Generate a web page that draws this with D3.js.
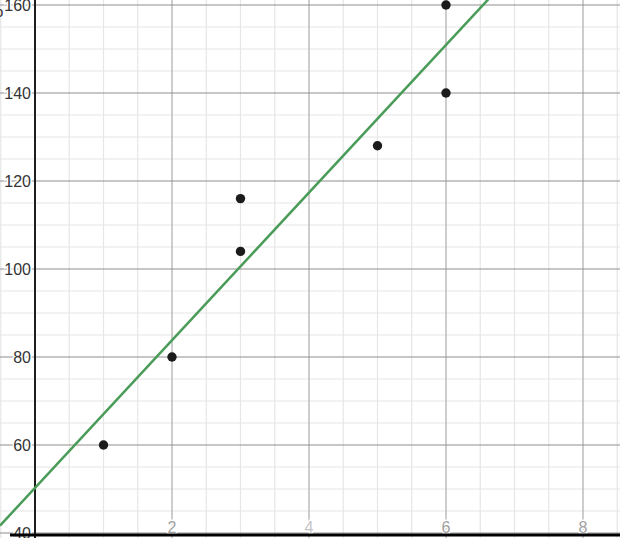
<!DOCTYPE html>
<html>
<head>
<meta charset="utf-8">
<script src="https://cdn.jsdelivr.net/npm/d3@7"></script>
<style>
html,body{margin:0;padding:0;background:#fff;overflow:hidden;}
svg{display:block;}
</style>
</head>
<body>
<svg id="chart" width="620" height="538"></svg>
<script>
// Data
const pointsX = [1, 2, 3, 3, 5, 6, 6];
const pointsY = [60, 80, 104, 116, 128, 140, 160];
const lineSlope = 16.78;
const lineIntercept = 50.25;
const xTickLabels = [2, 4, 6, 8];
const yTickLabels = [40, 60, 80, 100, 120, 140, 160];

const W = 620, H = 538;
const svg = d3.select("#chart");
const x = d3.scaleLinear().domain([0, 8]).range([35, 583]);
const y = d3.scaleLinear().domain([40, 160]).range([533, 5]);

const xMin = x.invert(0), xMax = x.invert(W);
const yMin = y.invert(H), yMax = y.invert(0);

const minorX = d3.range(Math.ceil(xMin * 2) / 2, xMax, 0.5).filter(v => Math.abs(v % 2) > 1e-9);
const minorY = d3.range(Math.ceil(yMin / 5) * 5, yMax, 5).filter(v => v % 20 !== 0);
const majorX = d3.range(Math.ceil(xMin / 2) * 2, xMax, 2).filter(v => v !== 0);
const majorY = d3.range(Math.ceil(yMin / 20) * 20, yMax + 0.001, 20);

const g = svg.append("g");
g.selectAll(".mx").data(minorX).enter().append("line")
  .attr("x1", d => x(d)).attr("x2", d => x(d)).attr("y1", 0).attr("y2", H)
  .attr("stroke", "#e6e6e6").attr("stroke-width", 1.2);
g.selectAll(".my").data(minorY).enter().append("line")
  .attr("y1", d => y(d)).attr("y2", d => y(d)).attr("x1", 0).attr("x2", W)
  .attr("stroke", "#e6e6e6").attr("stroke-width", 1.2);
g.selectAll(".Mx").data(majorX).enter().append("line")
  .attr("x1", d => x(d)).attr("x2", d => x(d)).attr("y1", 0).attr("y2", H)
  .attr("stroke", "#acacac").attr("stroke-width", 1.2);
g.selectAll(".My").data(majorY).enter().append("line")
  .attr("y1", d => y(d)).attr("y2", d => y(d)).attr("x1", 0).attr("x2", W)
  .attr("stroke", "#8f8f8f").attr("stroke-width", 1.2);

// y axis
g.append("line").attr("x1", x(0)).attr("x2", x(0)).attr("y1", 0).attr("y2", H)
  .attr("stroke", "#1e1e1e").attr("stroke-width", 2);

// regression line
const lx = [xMin, xMax];
g.append("line")
  .attr("x1", x(lx[0])).attr("y1", y(lineSlope * lx[0] + lineIntercept))
  .attr("x2", x(lx[1])).attr("y2", y(lineSlope * lx[1] + lineIntercept))
  .attr("stroke", "#4a9b58").attr("stroke-width", 2.5);

// y tick labels
g.selectAll(".yl").data(yTickLabels).enter().append("text")
  .attr("x", x(0) - 4).attr("y", d => y(d)).attr("dy", "0.36em")
  .attr("text-anchor", "end")
  .attr("font-family", "Liberation Sans, Arial, sans-serif").attr("font-size", 16)
  .attr("fill", "#333").attr("stroke", "#fff").attr("stroke-width", 3)
  .attr("paint-order", "stroke").text(d => d);

// x tick labels
g.selectAll(".xl").data(xTickLabels).enter().append("text")
  .attr("x", d => x(d)).attr("y", 533)
  .attr("text-anchor", "middle")
  .attr("font-family", "Liberation Sans, Arial, sans-serif").attr("font-size", 16)
  .attr("fill", d => d === 4 ? "#c4c4c4" : "#a0a0a0").attr("stroke", "#fff").attr("stroke-width", 3)
  .attr("paint-order", "stroke").text(d => d);

// partial cut-off label at top-left
g.append("text").attr("x", -5).attr("y", 17)
  .attr("font-family", "Liberation Sans, Arial, sans-serif").attr("font-size", 15)
  .attr("fill", "#333").text("o");

// points
g.selectAll(".pt").data(pointsX.map((d, i) => [d, pointsY[i]])).enter().append("circle")
  .attr("cx", d => x(d[0])).attr("cy", d => y(d[1])).attr("r", 4.7)
  .attr("fill", "#1b1b1b");

// bottom black bar
g.append("line").attr("x1", 10).attr("x2", W).attr("y1", 535).attr("y2", 535)
  .attr("stroke", "#000").attr("stroke-width", 3);
</script>
</body>
</html>
